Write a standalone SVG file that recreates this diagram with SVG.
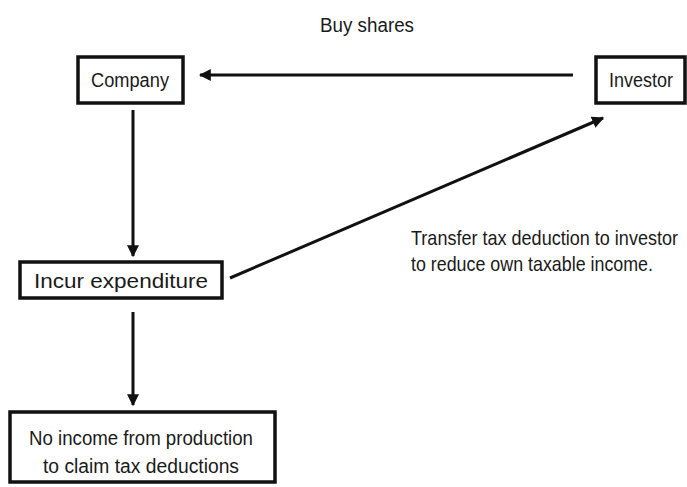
<svg xmlns="http://www.w3.org/2000/svg" width="687" height="487" viewBox="0 0 687 487">
  <style>
    .box { fill: #ffffff; stroke: #111111; stroke-width: 3.5; }
    .lbl { font-family: "Liberation Sans", Arial, sans-serif; font-size: 20px; fill: #1a1a1a; }
    .lbl-narrow { font-family: "Liberation Sans", Arial, sans-serif; font-size: 17px; fill: #1a1a1a; }
    .wire { stroke: #111111; stroke-width: 3; fill: none; marker-end: url(#head); }
  </style>
  <defs>
    <marker id="head" viewBox="0 0 10 10" refX="9" refY="5" markerWidth="4" markerHeight="4" orient="auto" markerUnits="strokeWidth">
      <path d="M0,0 L10,5 L0,10 z" fill="#111111"/>
    </marker>
  </defs>
  <rect width="687" height="487" fill="#ffffff"/>

  <g id="connectors">
    <line class="wire" x1="573" y1="75" x2="200" y2="75"/>
    <line class="wire" x1="133" y1="110" x2="133" y2="256"/>
    <line class="wire" x1="230" y1="278" x2="603" y2="118"/>
    <line class="wire" x1="133" y1="312" x2="133" y2="405"/>
  </g>

  <g id="label-buy">
    <text class="lbl" x="367" y="32" text-anchor="middle" textLength="94" lengthAdjust="spacingAndGlyphs">Buy shares</text>
  </g>
  <!-- two-line note beside the diagonal, drawn narrow and slightly tall -->
  <g id="label-transfer" transform="translate(411,245) scale(1,1.16)">
    <text class="lbl-narrow" x="0" y="0" textLength="267" lengthAdjust="spacingAndGlyphs">Transfer tax deduction to investor</text>
    <text class="lbl-narrow" x="0" y="22.4" textLength="242" lengthAdjust="spacingAndGlyphs">to reduce own taxable income.</text>
  </g>

  <g id="company">
    <rect class="box" x="78" y="57" width="105" height="46"/>
    <text class="lbl" x="130" y="87" text-anchor="middle" textLength="78" lengthAdjust="spacingAndGlyphs">Company</text>
  </g>
  <g id="investor">
    <rect class="box" x="596" y="57" width="89" height="46"/>
    <text class="lbl" x="641" y="87" text-anchor="middle" textLength="64" lengthAdjust="spacingAndGlyphs">Investor</text>
  </g>
  <g id="incur">
    <rect class="box" x="20" y="262" width="202" height="36"/>
    <text class="lbl" x="121" y="288" text-anchor="middle" textLength="174" lengthAdjust="spacingAndGlyphs">Incur expenditure</text>
  </g>
  <g id="no-income">
    <rect class="box" x="10" y="412" width="265" height="70"/>
    <text class="lbl" x="141" y="445" text-anchor="middle" textLength="224" lengthAdjust="spacingAndGlyphs">No income from production</text>
    <text class="lbl" x="141" y="473" text-anchor="middle" textLength="196" lengthAdjust="spacingAndGlyphs">to claim tax deductions</text>
  </g>
</svg>
